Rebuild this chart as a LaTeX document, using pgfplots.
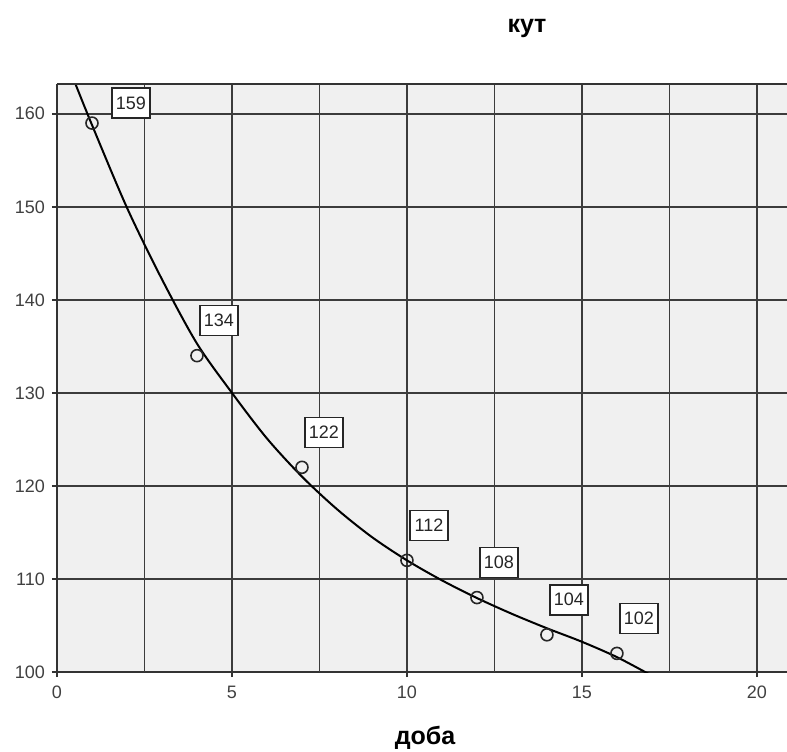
\documentclass[border=0pt]{standalone}
\usepackage{pgfplots}
\pgfplotsset{compat=1.18}
\usepackage{pgfplotstable}
\usepackage{fontspec}
\setmainfont{Liberation Sans}

\definecolor{panel}{HTML}{F0F0F0}
\definecolor{gridc}{HTML}{3C3C3C}

% observed values with label offsets (pt)
\pgfplotstableread{
x  y    dx    dy
1  159  19.5  10
4  134  11    17.5
7  122  11    17.5
10 112  11    17.5
12 108  11    17.5
14 104  11    17.5
16 102  11    17.5
}\obsdata

\begin{document}
\begin{tikzpicture}
\path[use as bounding box] (-28.5pt,-39.5pt) rectangle (365pt,336pt);
\begin{axis}[
  at={(0pt,0pt)}, anchor=south west,
  scale only axis, width=365pt, height=294pt,
  xmin=0, xmax=20.86, ymin=100, ymax=163.2,
  axis x line*=bottom, axis y line*=left,
  axis line style={black!80, line width=1pt},
  axis background/.style={fill=panel},
  xtick={0,5,10,15,20}, ytick={100,110,...,160},
  extra x ticks={2.5,7.5,12.5,17.5},
  extra x tick labels={},
  extra x tick style={grid=major, major tick length=0pt},
  grid=major,
  major grid style={gridc, line width=0.85pt},
  tick align=outside, major tick length=2.5pt,
  tick style={black!80, line width=0.8pt},
  xtick pos=bottom, ytick pos=left,
  /pgf/number format/assume math mode=true,
  ticklabel style={font=\fontsize{9}{10}\selectfont, text=black!75},
  xticklabel style={yshift=-1pt},
  clip mode=individual,
]
% fitted trend
\addplot[black, line width=1pt, smooth] coordinates {
(0.4,164.4) (1,158.8) (2,149.9) (3,142.2) (4,135.3) (5,130.0)
(6,125.1) (7,121.0) (8,117.5) (9,114.5) (10,112.0) (11,109.85)
(12,107.95) (13,106.25) (14,104.7) (15,103.25) (16,101.6) (17,99.6)
};
% observations with value labels
\addplot[only marks, mark=o, mark size=3pt, black!85,
  mark options={line width=0.8pt},
  point meta=y,
  visualization depends on={\thisrow{dx} \as \dx},
  visualization depends on={\thisrow{dy} \as \dy},
  nodes near coords={\pgfmathprintnumber{\pgfplotspointmeta}},
  nodes near coords style={anchor=center, xshift=\dx pt, yshift=\dy pt,
    draw=black!85, line width=0.8pt, fill=white, text=black!85,
    font=\fontsize{9}{10}\selectfont, inner sep=1.8pt,
    minimum width=19pt, minimum height=15pt},
] table[x=x, y=y] {\obsdata};
\draw[black!80, line width=1pt] (rel axis cs:0,1) -- (rel axis cs:1,1);
\end{axis}
\node[font=\fontsize{12.5}{14}\selectfont\bfseries] at (235pt,322pt) {кут};
\node[font=\fontsize{12.5}{14}\selectfont\bfseries] at (184pt,-33pt) {доба};
\end{tikzpicture}
\end{document}
